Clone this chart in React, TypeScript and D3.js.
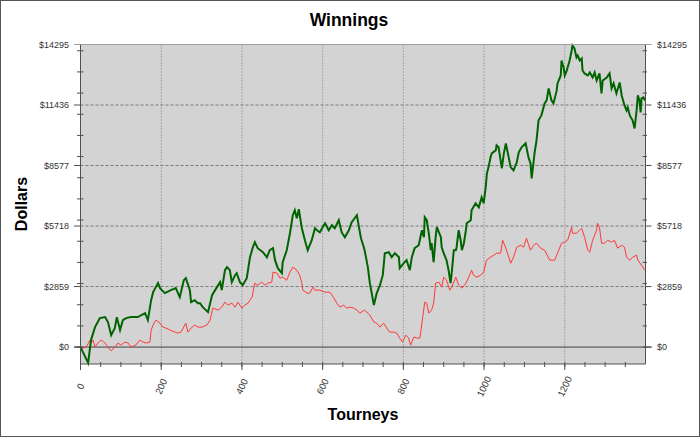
import React from "react";
import * as d3 from "d3";

const W = 700;
const H = 437;

const yTicks = [0, 2859, 5718, 8577, 11436, 14295];
const yMinorTicks = [0, 1000, 2000, 3000, 4000, 5000, 6000, 7000, 8000, 9000, 10000, 11000, 12000, 13000, 14000];
const xTicks = [0, 200, 400, 600, 800, 1000, 1200];
const xMinorTicks = d3.range(0, 1400, 50);

// Green series (total winnings)
const greenTourney = [0, 19, 26, 36, 48, 61, 68, 76, 85, 90, 98, 105, 113, 125, 142, 160, 167, 175, 180, 192, 197, 209, 224, 236, 246, 256, 261, 271, 274, 283, 291, 296, 303, 316, 326, 338, 346, 350, 358, 363, 370, 375, 383, 387, 395, 402, 412, 415, 420, 427, 432, 439, 452, 462, 469, 477, 482, 489, 499, 501, 511, 519, 526, 531, 536, 541, 548, 556, 563, 573, 581, 586, 593, 606, 615, 623, 630, 640, 647, 655, 665, 672, 685, 690, 695, 702, 704, 712, 717, 727, 734, 742, 749, 754, 764, 771, 779, 789, 791, 801, 808, 816, 821, 828, 838, 846, 851, 853, 858, 863, 868, 870, 875, 880, 883, 893, 895, 900, 907, 912, 917, 920, 925, 930, 932, 937, 942, 945, 950, 955, 957, 967, 969, 979, 987, 994, 999, 1004, 1007, 1011, 1016, 1019, 1029, 1031, 1036, 1041, 1044, 1049, 1054, 1061, 1066, 1073, 1081, 1086, 1093, 1103, 1110, 1115, 1118, 1125, 1130, 1135, 1142, 1150, 1155, 1160, 1167, 1172, 1180, 1182, 1190, 1192, 1197, 1200, 1205, 1207, 1212, 1217, 1219, 1224, 1229, 1232, 1237, 1242, 1244, 1249, 1257, 1262, 1269, 1274, 1279, 1286, 1291, 1294, 1304, 1311, 1316, 1321, 1328, 1336, 1341, 1348, 1353, 1356, 1361, 1368, 1373, 1378, 1381, 1385, 1388, 1390, 1395, 1399];
const greenDollars = [0, -750, 330, 944, 1368, 1415, 1180, 566, 896, 1415, 802, 1274, 1368, 1415, 1415, 1604, 1274, 2217, 2595, 3020, 2784, 2548, 2689, 2784, 2359, 3161, 3255, 2689, 2123, 2217, 2076, 2076, 1887, 1651, 2453, 2831, 3067, 2689, 3633, 3774, 3633, 3067, 3397, 3491, 3067, 2925, 3255, 3633, 4246, 4718, 4954, 4671, 4482, 4246, 4576, 4671, 4105, 3727, 3491, 4010, 4576, 5379, 6228, 6464, 6086, 6511, 5662, 5048, 4576, 5048, 5614, 5520, 5426, 5850, 5520, 5756, 5614, 5992, 5426, 5190, 5520, 5898, 6228, 5662, 5143, 4718, 4576, 3774, 3020, 1982, 2548, 2925, 3397, 4435, 4482, 4246, 4435, 4246, 3727, 3963, 4105, 3633, 4246, 4671, 4812, 5520, 5190, 6133, 5992, 5379, 4576, 4907, 4010, 5190, 5662, 5190, 4718, 4435, 4105, 3633, 3020, 3539, 4576, 4576, 4718, 5520, 5048, 4576, 4907, 5520, 5850, 5992, 6464, 6794, 6605, 7077, 6794, 7549, 8209, 8492, 8964, 9153, 9294, 9530, 9436, 8823, 8445, 9153, 9625, 8964, 8492, 8351, 8728, 9200, 9436, 9625, 8964, 8681, 7973, 9153, 9766, 10710, 10946, 11512, 11653, 12220, 11653, 11512, 12125, 12455, 12833, 13541, 13210, 12833, 13069, 13210, 13541, 14012, 14248, 14107, 13682, 13776, 13541, 13635, 13069, 12927, 12833, 12974, 12739, 12974, 12597, 12927, 11984, 12597, 12739, 12927, 12220, 12455, 11984, 12502, 11889, 11417, 11182, 11323, 10946, 10710, 10332, 11182, 11889, 11653, 11087, 11748, 11795, 11653];

// Red series
const redTourney = [0, 6, 14, 24, 26, 31, 36, 43, 51, 61, 68, 76, 85, 93, 100, 110, 118, 125, 137, 147, 155, 162, 172, 175, 182, 187, 197, 204, 212, 222, 234, 241, 249, 261, 266, 274, 283, 291, 301, 313, 321, 328, 341, 350, 358, 365, 375, 383, 390, 400, 407, 415, 425, 432, 439, 449, 457, 464, 474, 477, 487, 494, 501, 511, 519, 526, 536, 543, 548, 551, 561, 568, 576, 581, 593, 606, 618, 628, 635, 643, 652, 660, 667, 677, 685, 692, 704, 717, 727, 734, 742, 751, 759, 766, 776, 784, 791, 798, 806, 813, 818, 826, 833, 841, 846, 853, 858, 863, 870, 875, 880, 888, 895, 900, 907, 915, 920, 930, 937, 945, 955, 962, 969, 974, 982, 992, 999, 1006, 1016, 1024, 1031, 1041, 1046, 1053, 1058, 1066, 1073, 1081, 1091, 1098, 1105, 1115, 1123, 1130, 1140, 1150, 1163, 1175, 1182, 1192, 1200, 1207, 1217, 1219, 1229, 1237, 1242, 1249, 1257, 1262, 1269, 1279, 1281, 1286, 1291, 1299, 1306, 1316, 1323, 1331, 1341, 1348, 1353, 1361, 1368, 1378, 1381, 1390, 1398];
const redDollars = [0, -47, 0, 330, 189, 330, 0, 189, 330, 189, 0, -180, 0, 189, 94, 236, 189, 0, 94, 330, 236, 189, 236, 802, 1132, 1274, 1132, 944, 896, 802, 708, 660, 708, 1132, 708, 896, 1038, 944, 944, 1038, 1274, 1840, 1746, 1887, 2123, 1982, 2076, 1887, 2123, 1840, 1982, 2076, 2359, 3020, 2925, 3067, 2925, 3020, 3067, 3539, 3491, 3255, 3303, 3161, 3539, 3774, 3633, 3397, 3067, 2689, 2548, 2548, 2831, 2689, 2689, 2595, 2595, 2312, 2076, 1887, 1982, 1840, 1887, 1840, 1746, 1604, 1746, 1510, 1180, 1132, 944, 1132, 896, 708, 708, 660, 425, 236, 566, 425, 94, 472, 425, 425, 1132, 2123, 2076, 1604, 1746, 2076, 3020, 3067, 2831, 3303, 3161, 2689, 2831, 3303, 2925, 2784, 3020, 3303, 3633, 3397, 3303, 3397, 3539, 4105, 4246, 4341, 4435, 4435, 5048, 4718, 4435, 3963, 4246, 4718, 4812, 4718, 5143, 4576, 4812, 4907, 4671, 4576, 4105, 4105, 4435, 4907, 4954, 5048, 5662, 5379, 5379, 5520, 5614, 5190, 4576, 4482, 5048, 5520, 5850, 5662, 4907, 4907, 5048, 4954, 5048, 4671, 4812, 4718, 4246, 4105, 4246, 4341, 4105, 3869, 3633];

const FONT = "'Liberation Sans', Arial, Helvetica, sans-serif";

export default function App() {
  const left = 80.5;
  const right = 645.5;
  const top = 44.5;
  const bottom = 364;

  const x = d3.scaleLinear().domain([0, 1400]).range([left, right]);
  const y = d3.scaleLinear().domain([-800, 14295]).range([bottom, top]);

  const green = greenTourney.map((t, i) => [t, greenDollars[i]] as [number, number]);
  const red = redTourney.map((t, i) => [t, redDollars[i]] as [number, number]);
  const line = d3
    .line<[number, number]>()
    .x((d) => x(d[0]))
    .y((d) => y(d[1]));

  const axisColor = "#505050";
  const labelColor = "#333";

  return (
    <svg
      width={W}
      height={H}
      style={{ position: "absolute", left: 0, top: 0, background: "#fff" }}
      fontFamily={FONT}
    >
      <rect x={0.5} y={0.5} width={W - 1} height={H - 1} fill="#fff" stroke="#555" />
      <text x={349} y={26} textAnchor="middle" fontWeight="bold" fontSize={17.5} fill="#000">
        Winnings
      </text>

      {/* plot background */}
      <rect x={left} y={top} width={right - left} height={bottom - top} fill="#d3d3d3" />

      {/* horizontal grid */}
      {yTicks
        .filter((v) => v !== 0 && v !== 14295)
        .map((v) => (
          <line key={"hg" + v} x1={left} x2={right} y1={y(v)} y2={y(v)} stroke="#7a7a7a" strokeDasharray="3,2" />
        ))}
      {/* vertical grid */}
      {xTicks
        .filter((v) => v !== 0)
        .map((v) => (
          <line key={"vg" + v} x1={x(v)} x2={x(v)} y1={top} y2={bottom} stroke="#7a7a7a" strokeDasharray="1,2" />
        ))}

      {/* zero line */}
      <line x1={74} x2={651.5} y1={y(0)} y2={y(0)} stroke="#404040" strokeWidth={1} />

      {/* data lines */}
      <path d={line(red) || ""} fill="none" stroke="#ff3838" strokeWidth={1} />
      <path d={line(green) || ""} fill="none" stroke="#006400" strokeWidth={2} />

      {/* frame */}
      <line x1={74} x2={651.5} y1={top} y2={top} stroke="#a0a0a0" />
      <line x1={left} x2={left} y1={top} y2={bottom} stroke={axisColor} />
      <line x1={right} x2={right} y1={top} y2={bottom} stroke={axisColor} />
      <line x1={left} x2={right} y1={bottom} y2={bottom} stroke={axisColor} />

      {/* y minor ticks */}
      {yMinorTicks.map((v) => (
        <g key={"ym" + v}>
          <line x1={77} x2={83.5} y1={y(v)} y2={y(v)} stroke={axisColor} />
          <line x1={642.5} x2={647} y1={y(v)} y2={y(v)} stroke={axisColor} />
        </g>
      ))}
      {/* y major ticks + labels */}
      {yTicks.map((v) => (
        <g key={"yt" + v}>
          <line x1={74} x2={left} y1={y(v)} y2={y(v)} stroke={v === 14295 ? "#a0a0a0" : axisColor} />
          <line x1={right} x2={651.5} y1={y(v)} y2={y(v)} stroke={v === 14295 ? "#a0a0a0" : axisColor} />
          <text x={69} y={y(v)} dy="0.35em" textAnchor="end" fontSize={9} fill={labelColor}>
            {"$" + v}
          </text>
          <text x={657} y={y(v)} dy="0.35em" textAnchor="start" fontSize={9} fill={labelColor}>
            {"$" + v}
          </text>
        </g>
      ))}

      {/* x minor ticks */}
      {xMinorTicks.map((v) => (
        <line key={"xm" + v} x1={x(v)} x2={x(v)} y1={362} y2={367} stroke={axisColor} />
      ))}
      {/* x major ticks + labels */}
      {xTicks.map((v) => (
        <g key={"xt" + v}>
          <line x1={x(v)} x2={x(v)} y1={bottom} y2={370} stroke={axisColor} />
          <text
            transform={`translate(${x(v)},386.5) rotate(-65)`}
            textAnchor="middle"
            dy="0.35em"
            fontSize={9.5}
            fill={labelColor}
          >
            {v}
          </text>
        </g>
      ))}

      {/* axis titles */}
      <text transform="translate(26.5,204) rotate(-90)" textAnchor="middle" fontWeight="bold" fontSize={16} fill="#000">
        Dollars
      </text>
      <text x={363} y={420} textAnchor="middle" fontWeight="bold" fontSize={16} fill="#000">
        Tourneys
      </text>
    </svg>
  );
}
